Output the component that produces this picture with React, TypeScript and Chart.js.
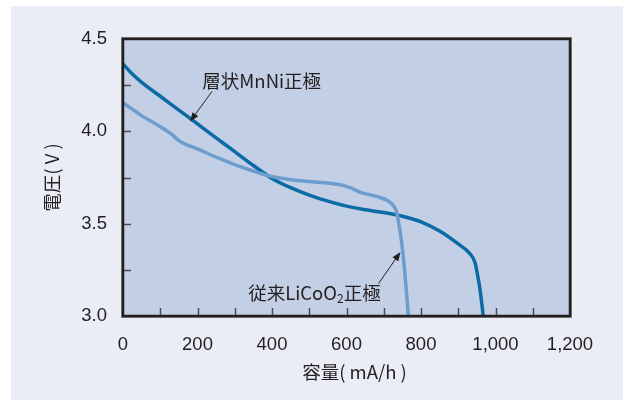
import React, { useEffect, useRef } from "react";
import { Chart, registerables } from "chart.js";

Chart.register(...registerables);

// ---- data ----
const mnniX = [0, 25, 50, 100, 150, 200, 250, 300, 350, 400, 450, 500, 550, 600, 650, 700, 750, 800, 850, 900, 930, 945, 952, 958, 963, 967];
const mnniY = [4.365, 4.31, 4.265, 4.19, 4.115, 4.04, 3.965, 3.89, 3.815, 3.745, 3.695, 3.655, 3.622, 3.595, 3.575, 3.56, 3.54, 3.51, 3.46, 3.39, 3.34, 3.29, 3.22, 3.15, 3.07, 3.0];
const licooX = [0, 25, 50, 100, 130, 150, 170, 200, 250, 300, 350, 400, 450, 500, 550, 580, 610, 640, 680, 710, 725, 735, 742, 748, 755, 760, 766];
const licooY = [4.155, 4.12, 4.085, 4.025, 3.985, 3.95, 3.928, 3.905, 3.86, 3.82, 3.785, 3.755, 3.738, 3.728, 3.72, 3.712, 3.695, 3.668, 3.648, 3.625, 3.6, 3.56, 3.48, 3.4, 3.27, 3.15, 3.0];

const xTickValues = [0, 200, 400, 600, 800, 1000, 1200];
const yTickValues = [3.0, 3.5, 4.0, 4.5];
const xMinorTicks = [100, 200, 300, 400, 500, 600, 700, 800, 900, 1000, 1100];
const yMinorTicks = [3.25, 3.5, 3.75, 4.0, 4.25];

const seriesNames = ["層状MnNi正極", "従来LiCoO2正極"];
const xTitle = "容量( mA/h )";
const yTitle = "電圧( V )";

// annotation anchors (data coordinates)
const mnniLabelPos = { x: 213, y: 4.274 };
const mnniArrow = { x1: 239, y1: 4.216, x2: 180, y2: 4.053 };
const licooLabelPos = { x: 336, y: 3.124 };
const licooArrow = { x1: 686, y1: 3.175, x2: 745, y2: 3.347 };

const TEXT = "#231f20";
const CJK = "'Noto Sans CJK JP', 'Liberation Sans', sans-serif";
const NUM = "'Liberation Sans', Arial, sans-serif";

function drawArrow(ctx: CanvasRenderingContext2D, x1: number, y1: number, x2: number, y2: number) {
  const ang = Math.atan2(y2 - y1, x2 - x1);
  const head = 9;
  const hw = 3.5;
  ctx.save();
  ctx.strokeStyle = "#231f20";
  ctx.fillStyle = "#231f20";
  ctx.lineWidth = 1;
  ctx.beginPath();
  ctx.moveTo(x1, y1);
  ctx.lineTo(x2 - Math.cos(ang) * head * 0.8, y2 - Math.sin(ang) * head * 0.8);
  ctx.stroke();
  ctx.beginPath();
  ctx.moveTo(x2, y2);
  ctx.lineTo(x2 - Math.cos(ang) * head - Math.sin(ang) * hw, y2 - Math.sin(ang) * head + Math.cos(ang) * hw);
  ctx.lineTo(x2 - Math.cos(ang) * head + Math.sin(ang) * hw, y2 - Math.sin(ang) * head - Math.cos(ang) * hw);
  ctx.closePath();
  ctx.fill();
  ctx.restore();
}

const framePlugin = {
  id: "framePlugin",
  beforeDatasetsDraw(chart: any) {
    const { ctx, chartArea: a } = chart;
    ctx.save();
    ctx.fillStyle = "#c3cfe5";
    ctx.fillRect(a.left, a.top, a.right - a.left, a.bottom - a.top);
    ctx.restore();
  },
  afterDraw(chart: any) {
    const { ctx, chartArea: a, scales } = chart;
    const xs = scales.x;
    const ys = scales.y;
    ctx.save();
    // inner ticks
    ctx.strokeStyle = "#4d4d4f";
    ctx.lineWidth = 1.5;
    ctx.beginPath();
    for (const v of xMinorTicks) {
      const px = Math.round(xs.getPixelForValue(v)) + 0.5;
      ctx.moveTo(px, a.bottom);
      ctx.lineTo(px, a.bottom - 8);
    }
    for (const v of yMinorTicks) {
      const py = Math.round(ys.getPixelForValue(v)) + 0.5;
      ctx.moveTo(a.left, py);
      ctx.lineTo(a.left + 8, py);
    }
    ctx.stroke();
    // frame
    ctx.strokeStyle = "#8a8a8a";
    ctx.lineWidth = 1;
    ctx.strokeRect(a.left - 1.5, a.top - 1.5, a.right - a.left + 3, a.bottom - a.top + 3);
    ctx.strokeStyle = "#231f20";
    ctx.lineWidth = 2.5;
    ctx.strokeRect(a.left, a.top, a.right - a.left, a.bottom - a.top);

    // annotations
    ctx.fillStyle = TEXT;
    ctx.textBaseline = "middle";
    ctx.textAlign = "left";
    ctx.font = `18.5px ${CJK}`;
    ctx.fillText(seriesNames[0], xs.getPixelForValue(mnniLabelPos.x), ys.getPixelForValue(mnniLabelPos.y));
    drawArrow(ctx, xs.getPixelForValue(mnniArrow.x1), ys.getPixelForValue(mnniArrow.y1), xs.getPixelForValue(mnniArrow.x2), ys.getPixelForValue(mnniArrow.y2));

    // LiCoO2 label with subscript
    let lx = xs.getPixelForValue(licooLabelPos.x);
    const ly = ys.getPixelForValue(licooLabelPos.y);
    const partA = "従来LiCoO";
    const partSub = "2";
    const partB = "正極";
    ctx.font = `18.5px ${CJK}`;
    ctx.fillText(partA, lx, ly);
    lx += ctx.measureText(partA).width;
    ctx.font = `12px ${CJK}`;
    ctx.fillText(partSub, lx, ly + 5);
    lx += ctx.measureText(partSub).width;
    ctx.font = `18.5px ${CJK}`;
    ctx.fillText(partB, lx, ly);
    drawArrow(ctx, xs.getPixelForValue(licooArrow.x1), ys.getPixelForValue(licooArrow.y1), xs.getPixelForValue(licooArrow.x2), ys.getPixelForValue(licooArrow.y2));

    // axis titles
    ctx.font = `18.5px ${CJK}`;
    ctx.textAlign = "center";
    ctx.fillText(xTitle, (a.left + a.right) / 2 + 8, 366);
    ctx.save();
    ctx.translate(41, (a.top + a.bottom) / 2);
    ctx.rotate(-Math.PI / 2);
    ctx.fillText(yTitle, 0, 0);
    ctx.restore();
    ctx.restore();
  },
};

export default function App() {
  const ref = useRef<HTMLCanvasElement | null>(null);
  useEffect(() => {
    if (!ref.current) return;
    const chart = new Chart(ref.current, {
      type: "line",
      data: {
        datasets: [
          {
            label: seriesNames[1],
            data: licooX.map((x, i) => ({ x, y: licooY[i] })),
            borderColor: "#6d9dcc",
            borderWidth: 3.5,
            pointRadius: 0,
            cubicInterpolationMode: "monotone",
            fill: false,
          },
          {
            label: seriesNames[0],
            data: mnniX.map((x, i) => ({ x, y: mnniY[i] })),
            borderColor: "#0a6ba6",
            borderWidth: 3.5,
            pointRadius: 0,
            cubicInterpolationMode: "monotone",
            fill: false,
          },
        ],
      },
      options: {
        animation: false,
        responsive: false,
        maintainAspectRatio: false,
        layout: { padding: { left: 0, top: 33, right: 53, bottom: 0 } },
        plugins: { legend: { display: false }, tooltip: { enabled: false } },
        scales: {
          x: {
            type: "linear",
            min: 0,
            max: 1200,
            afterBuildTicks: (s: any) => {
              s.ticks = xTickValues.map((v) => ({ value: v }));
            },
            afterFit: (s: any) => {
              s.height = 84;
            },
            grid: { display: false },
            border: { display: false },
            ticks: {
              color: TEXT,
              padding: 10,
              maxRotation: 0,
              autoSkip: false,
              font: { family: NUM, size: 18.5 },
              callback: (v: any) => Number(v).toLocaleString("en-US"),
            },
          },
          y: {
            type: "linear",
            min: 3.0,
            max: 4.5,
            afterBuildTicks: (s: any) => {
              s.ticks = yTickValues.map((v) => ({ value: v }));
            },
            afterFit: (s: any) => {
              s.width = 112;
            },
            grid: { display: false },
            border: { display: false },
            ticks: {
              color: TEXT,
              padding: 8,
              autoSkip: false,
              font: { family: NUM, size: 18.5 },
              callback: (v: any) => Number(v).toFixed(1),
            },
          },
        },
      },
      plugins: [framePlugin],
    } as any);
    return () => chart.destroy();
  }, []);

  return (
    <div style={{ position: "fixed", left: 0, top: 0, width: 628, height: 400, background: "#ffffff" }}>
      <div style={{ position: "absolute", left: 11, top: 6, width: 612, height: 394, background: "#eaedf6" }}>
        <canvas ref={ref} width={612} height={394} style={{ display: "block", width: 612, height: 394 }} />
      </div>
    </div>
  );
}
